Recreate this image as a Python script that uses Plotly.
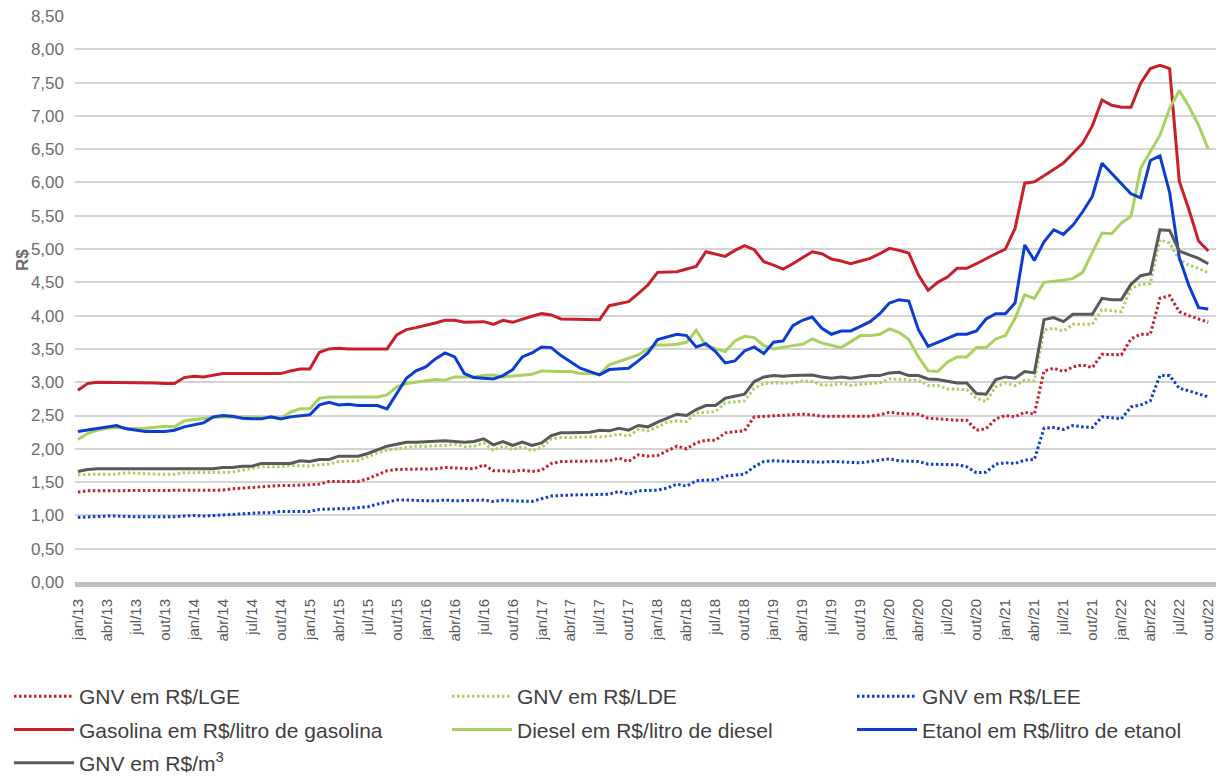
import plotly.graph_objects as go

# meses jan/13 .. out/22
meses_abrev = ["jan", "fev", "mar", "abr", "mai", "jun", "jul", "ago", "set", "out", "nov", "dez"]
anos = ["13", "14", "15", "16", "17", "18", "19", "20", "21", "22"]
meses = [m + "/" + a for a in anos for m in meses_abrev][:118]
ticks = meses[::3]

gnv_lge = [1.35, 1.37, 1.37, 1.37, 1.37, 1.37, 1.37, 1.37, 1.37, 1.37,
           1.37, 1.37, 1.37, 1.37, 1.37, 1.38, 1.40, 1.41, 1.43, 1.44,
           1.44, 1.45, 1.45, 1.45, 1.46, 1.47, 1.51, 1.51, 1.51, 1.51,
           1.55, 1.61, 1.67, 1.69, 1.69, 1.69, 1.69, 1.70, 1.72, 1.71,
           1.70, 1.70, 1.76, 1.67, 1.67, 1.66, 1.68, 1.66, 1.68, 1.78,
           1.81, 1.81, 1.82, 1.82, 1.82, 1.82, 1.86, 1.81, 1.91, 1.89,
           1.90, 1.97, 2.04, 2.00, 2.09, 2.13, 2.13, 2.24, 2.25, 2.27,
           2.48, 2.49, 2.50, 2.50, 2.51, 2.52, 2.51, 2.49, 2.49, 2.49,
           2.48, 2.49, 2.49, 2.51, 2.55, 2.53, 2.52, 2.52, 2.46, 2.45,
           2.43, 2.43, 2.43, 2.28, 2.30, 2.45, 2.50, 2.48, 2.55, 2.52,
           3.17, 3.21, 3.16, 3.23, 3.26, 3.22, 3.42, 3.42, 3.41, 3.65,
           3.72, 3.72, 4.26, 4.30, 4.06, 4.00, 3.95, 3.90]

gnv_lde = [1.61, 1.62, 1.62, 1.62, 1.62, 1.64, 1.63, 1.62, 1.62, 1.62,
           1.62, 1.64, 1.64, 1.64, 1.64, 1.64, 1.65, 1.68, 1.71, 1.73,
           1.73, 1.73, 1.75, 1.75, 1.74, 1.76, 1.77, 1.81, 1.82, 1.82,
           1.88, 1.94, 1.98, 2.00, 2.03, 2.04, 2.04, 2.04, 2.05, 2.07,
           2.03, 2.04, 2.09, 1.98, 2.04, 1.99, 2.03, 1.97, 2.02, 2.15,
           2.17, 2.17, 2.18, 2.18, 2.18, 2.19, 2.22, 2.19, 2.29, 2.27,
           2.33, 2.40, 2.42, 2.41, 2.54, 2.55, 2.56, 2.69, 2.71, 2.72,
           2.91, 2.98, 2.99, 2.99, 2.99, 3.02, 3.01, 2.96, 2.96, 2.98,
           2.95, 2.97, 2.98, 2.99, 3.05, 3.04, 3.03, 3.03, 2.95, 2.95,
           2.90, 2.89, 2.89, 2.76, 2.71, 2.93, 2.99, 2.95, 3.03, 3.02,
           3.79, 3.81, 3.77, 3.87, 3.87, 3.87, 4.09, 4.07, 4.06, 4.41,
           4.47, 4.48, 5.14, 5.09, 4.84, 4.76, 4.71, 4.64]

gnv_lee = [0.97, 0.98, 0.98, 0.99, 0.99, 0.98, 0.98, 0.98, 0.98, 0.97,
           0.98, 0.99, 1.00, 0.99, 1.00, 1.01, 1.02, 1.03, 1.03, 1.04,
           1.04, 1.06, 1.06, 1.06, 1.06, 1.09, 1.10, 1.10, 1.10, 1.11,
           1.13, 1.17, 1.20, 1.23, 1.23, 1.22, 1.22, 1.22, 1.23, 1.22,
           1.22, 1.22, 1.23, 1.21, 1.23, 1.22, 1.22, 1.21, 1.25, 1.29,
           1.30, 1.31, 1.31, 1.31, 1.31, 1.32, 1.36, 1.32, 1.37, 1.38,
           1.38, 1.41, 1.47, 1.44, 1.52, 1.53, 1.53, 1.59, 1.61, 1.62,
           1.73, 1.81, 1.82, 1.81, 1.81, 1.81, 1.80, 1.80, 1.81, 1.80,
           1.80, 1.79, 1.81, 1.83, 1.85, 1.82, 1.81, 1.81, 1.77, 1.77,
           1.76, 1.76, 1.73, 1.64, 1.65, 1.77, 1.79, 1.78, 1.83, 1.84,
           2.31, 2.32, 2.29, 2.35, 2.33, 2.32, 2.48, 2.47, 2.45, 2.63,
           2.66, 2.72, 3.10, 3.10, 2.91, 2.87, 2.82, 2.78]

gasolina = [2.88, 2.98, 3.00, 3.00, 3.00, 3.00, 3.00, 2.99, 2.99, 2.98,
            2.98, 3.07, 3.09, 3.08, 3.11, 3.13, 3.13, 3.13, 3.13, 3.13,
            3.13, 3.13, 3.17, 3.20, 3.20, 3.45, 3.50, 3.51, 3.50, 3.50,
            3.50, 3.50, 3.50, 3.71, 3.79, 3.82, 3.85, 3.89, 3.93, 3.93,
            3.90, 3.91, 3.91, 3.87, 3.93, 3.90, 3.95, 3.99, 4.03, 4.01,
            3.95, 3.95, 3.95, 3.94, 3.94, 4.15, 4.18, 4.21, 4.33, 4.46,
            4.65, 4.66, 4.66, 4.70, 4.74, 4.96, 4.92, 4.89, 4.98, 5.05,
            4.99, 4.81, 4.76, 4.70, 4.78, 4.87, 4.96, 4.93, 4.85, 4.82,
            4.78, 4.82, 4.86, 4.93, 5.01, 4.98, 4.94, 4.61, 4.38, 4.50,
            4.58, 4.71, 4.71, 4.78, 4.86, 4.93, 5.00, 5.31, 5.99, 6.01,
            6.10, 6.19, 6.29, 6.44, 6.59, 6.85, 7.24, 7.16, 7.13, 7.13,
            7.49, 7.71, 7.76, 7.71, 6.02, 5.59, 5.12, 4.97]

diesel = [2.14, 2.23, 2.28, 2.31, 2.32, 2.31, 2.30, 2.31, 2.33, 2.34,
          2.33, 2.42, 2.44, 2.46, 2.47, 2.48, 2.48, 2.48, 2.48, 2.48,
          2.47, 2.46, 2.55, 2.60, 2.60, 2.76, 2.78, 2.78, 2.78, 2.78,
          2.78, 2.78, 2.81, 2.93, 2.98, 3.00, 3.01, 3.04, 3.03, 3.08,
          3.08, 3.08, 3.10, 3.11, 3.08, 3.09, 3.10, 3.12, 3.17, 3.16,
          3.16, 3.16, 3.13, 3.13, 3.12, 3.26, 3.31, 3.35, 3.41, 3.50,
          3.56, 3.56, 3.57, 3.60, 3.78, 3.55, 3.50, 3.46, 3.62, 3.69,
          3.67, 3.55, 3.50, 3.53, 3.55, 3.57, 3.65, 3.59, 3.55, 3.52,
          3.61, 3.70, 3.70, 3.72, 3.80, 3.75, 3.64, 3.38, 3.17, 3.16,
          3.30, 3.38, 3.38, 3.52, 3.52, 3.65, 3.70, 3.96, 4.31, 4.26,
          4.50, 4.51, 4.53, 4.56, 4.65, 4.95, 5.24, 5.23, 5.39, 5.49,
          6.21, 6.46, 6.71, 7.11, 7.38, 7.14, 6.86, 6.50]

etanol = [2.26, 2.28, 2.31, 2.33, 2.35, 2.30, 2.28, 2.26, 2.26, 2.26,
          2.28, 2.33, 2.36, 2.39, 2.48, 2.50, 2.49, 2.46, 2.45, 2.45,
          2.48, 2.45, 2.48, 2.49, 2.51, 2.66, 2.70, 2.66, 2.67, 2.65,
          2.65, 2.65, 2.60, 2.84, 3.06, 3.17, 3.23, 3.35, 3.44, 3.38,
          3.13, 3.07, 3.06, 3.05, 3.10, 3.19, 3.38, 3.44, 3.53, 3.52,
          3.40, 3.30, 3.21, 3.16, 3.11, 3.19, 3.20, 3.21, 3.32, 3.44,
          3.64, 3.68, 3.72, 3.70, 3.53, 3.58, 3.46, 3.29, 3.32, 3.47,
          3.53, 3.43, 3.60, 3.62, 3.85, 3.93, 3.98, 3.81, 3.72, 3.77,
          3.77, 3.84, 3.91, 4.03, 4.19, 4.24, 4.22, 3.79, 3.54, 3.60,
          3.66, 3.72, 3.72, 3.77, 3.95, 4.03, 4.03, 4.19, 5.06, 4.83,
          5.11, 5.29, 5.22, 5.36, 5.56, 5.79, 6.29, 6.14, 5.98, 5.83,
          5.77, 6.33, 6.40, 5.85, 4.87, 4.45, 4.12, 4.10]

gnv_m3 = [1.66, 1.69, 1.70, 1.70, 1.70, 1.70, 1.70, 1.70, 1.70, 1.70,
          1.70, 1.70, 1.70, 1.70, 1.70, 1.72, 1.72, 1.74, 1.74, 1.78,
          1.78, 1.78, 1.78, 1.82, 1.81, 1.84, 1.84, 1.89, 1.89, 1.89,
          1.93, 1.99, 2.04, 2.07, 2.10, 2.10, 2.11, 2.11, 2.12, 2.11,
          2.10, 2.11, 2.15, 2.06, 2.11, 2.05, 2.10, 2.05, 2.09, 2.20,
          2.24, 2.24, 2.24, 2.25, 2.28, 2.27, 2.31, 2.28, 2.35, 2.33,
          2.40, 2.46, 2.52, 2.50, 2.59, 2.65, 2.65, 2.76, 2.79, 2.82,
          3.01, 3.08, 3.10, 3.09, 3.10, 3.11, 3.11, 3.08, 3.06, 3.08,
          3.06, 3.08, 3.10, 3.10, 3.14, 3.15, 3.10, 3.10, 3.05, 3.04,
          3.01, 2.99, 2.99, 2.83, 2.82, 3.04, 3.08, 3.06, 3.16, 3.14,
          3.94, 3.97, 3.91, 4.02, 4.02, 4.02, 4.26, 4.24, 4.24, 4.47,
          4.60, 4.63, 5.29, 5.28, 4.97, 4.92, 4.86, 4.78]

VERMELHO = "#C8202A"
VERDE = "#A9D15F"
AZUL = "#0B3DD1"
CINZA = "#595959"
PONTILHADO = "2.5px,2.5px"

series = [
    ("GNV em R$/LGE", gnv_lge, VERMELHO, PONTILHADO, "legend"),
    ("GNV em R$/LDE", gnv_lde, VERDE, PONTILHADO, "legend2"),
    ("GNV em R$/LEE", gnv_lee, AZUL, PONTILHADO, "legend3"),
    ("Gasolina em R$/litro de gasolina", gasolina, VERMELHO, "solid", "legend"),
    ("Diesel em R$/litro de diesel", diesel, VERDE, "solid", "legend2"),
    ("Etanol em R$/litro de etanol", etanol, AZUL, "solid", "legend3"),
    ("GNV em R$/m<sup>3</sup>", gnv_m3, CINZA, "solid", "legend"),
]

fig = go.Figure()
for nome, valores, cor, traco, leg in series:
    fig.add_trace(go.Scatter(
        x=meses, y=valores, mode="lines", name=nome,
        line=dict(color=cor, width=3, dash=traco),
        legend=leg, legendgroup=nome,
    ))

leg_base = dict(
    xref="container", yref="container", yanchor="top", xanchor="left",
    font=dict(family="Liberation Sans, Arial, sans-serif", size=21, color="#404040"),
    traceorder="grouped", tracegroupgap=3, itemwidth=60, bgcolor="rgba(0,0,0,0)",
)
topo = 1 - 676 / 776

fig.update_layout(
    width=1218, height=776,
    margin=dict(l=75, r=2, t=16, b=194, autoexpand=False),
    paper_bgcolor="white", plot_bgcolor="white",
    separators=",.",
    font=dict(family="Liberation Sans, Arial, sans-serif", color="#595959"),
    showlegend=True,
    legend=dict(leg_base, x=9 / 1218, y=topo),
    legend2=dict(leg_base, x=447 / 1218, y=topo),
    legend3=dict(leg_base, x=852 / 1218, y=topo),
    xaxis=dict(
        type="category", range=[-0.3, 117.8],
        tickmode="array", tickvals=ticks, ticktext=ticks,
        tickangle=-90, tickfont=dict(size=15, color="#595959"),
        showgrid=False, showline=True, linecolor="#BFBFBF", linewidth=5,
        ticks="", ticklabelstandoff=6,
    ),
    yaxis=dict(
        range=[0, 8.5], dtick=0.5, tickformat=".2f",
        tickfont=dict(size=17, color="#6D6D6D"),
        showgrid=True, gridcolor="#D4D4D4", gridwidth=1.5,
        zeroline=False, ticks="", ticklabelstandoff=10,
    ),
    annotations=[dict(
        text="<b>R$</b>", textangle=-90, showarrow=False,
        xref="paper", yref="paper", x=(22 - 75) / 1141, y=(582 - 260) / 566,
        xanchor="center", yanchor="middle",
        font=dict(size=17, color="#6D6D6D"),
    )],
)

# sem margem do body, para a figura ocupar a janela a partir de (0, 0)
fig.write_html("out.html", config={"displayModeBar": False},
               post_script="document.body.style.margin='0';")
